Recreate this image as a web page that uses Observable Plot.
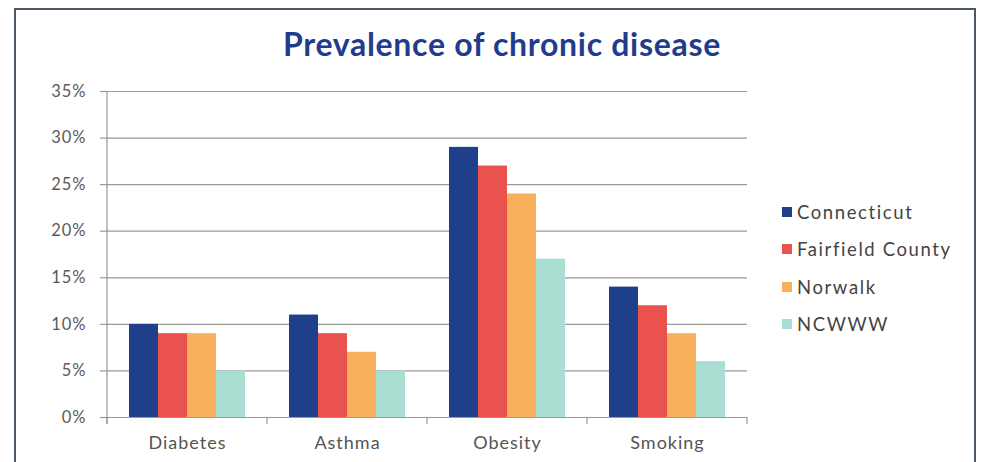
<!DOCTYPE html>
<html>
<head>
<meta charset="utf-8">
<script src="https://cdn.jsdelivr.net/npm/d3@7"></script>
<script src="https://cdn.jsdelivr.net/npm/@observablehq/plot@0.6"></script>
<style>
  body { margin: 0; background: #fff; }
  #wrap { position: relative; width: 982px; height: 462px; overflow: hidden; background: #fff; font-family: Lato, "Noto Sans", sans-serif; }
  #frame { position: absolute; left: 14px; top: 8px; width: 958px; height: 480px; border: 2.5px solid #4b5967; border-bottom: none; box-sizing: content-box; }
  #title { position: absolute; left: 0; width: 1004px; top: 24px; text-align: center; font-size: 32px; font-weight: 700; color: #1f3d8c; letter-spacing: 0.7px; }
  #chart { position: absolute; left: 0; top: 0; }
  #legend { position: absolute; left: 782px; top: 193px; }
  .item { height: 37.5px; display: flex; align-items: center; font-size: 18.5px; color: #444; letter-spacing: 1.6px; }
  .sw { width: 10px; height: 10px; margin-right: 5px; }
</style>
</head>
<body>
<div id="wrap">
  <div id="frame"></div>
  <div id="title">Prevalence of chronic disease</div>
  <div id="chart"></div>
  <div id="legend"></div>
</div>
<script>
const categories = ["Diabetes", "Asthma", "Obesity", "Smoking"];
const seriesNames = ["Connecticut", "Fairfield County", "Norwalk", "NCWWW"];
const seriesColors = ["#203f8b", "#ea524e", "#f9b05d", "#abded3"];
const connecticut = [0.10, 0.11, 0.29, 0.14];
const fairfield = [0.09, 0.09, 0.27, 0.12];
const norwalk = [0.09, 0.07, 0.24, 0.09];
const ncwww = [0.05, 0.05, 0.17, 0.06];
const yTicks = [0, 0.05, 0.10, 0.15, 0.20, 0.25, 0.30, 0.35];

const seriesValues = [connecticut, fairfield, norwalk, ncwww];
const data = [];
categories.forEach((c, i) => {
  seriesNames.forEach((s, j) => data.push({category: c, series: s, value: seriesValues[j][i]}));
});

const chart = Plot.plot({
  width: 982,
  height: 462,
  marginLeft: 107,
  marginRight: 235,
  marginTop: 91,
  marginBottom: 45,
  style: {fontFamily: "Lato, 'Noto Sans', sans-serif", background: "transparent", overflow: "visible", letterSpacing: "1px"},
  fx: {domain: categories, padding: 0, label: null},
  x: {domain: seriesNames, paddingInner: 0, paddingOuter: 0.735, axis: null},
  y: {domain: [0, 0.35], label: null},
  color: {domain: seriesNames, range: seriesColors},
  marks: [
    Plot.gridY(yTicks, {stroke: "#9a9a9a", strokeOpacity: 1, strokeWidth: 1.2}),
    Plot.axisY(yTicks, {tickFormat: d3.format(".0%"), tickSize: 7, tickPadding: 14, fontSize: 16.5, color: "#5a5a5a", stroke: "#9a9a9a", strokeWidth: 1.2, facetAnchor: "left", label: null}),
    Plot.axisFx({anchor: "bottom", tickSize: 0, tickPadding: 19, fontSize: 18, color: "#555", label: null, style: {letterSpacing: "1.5px"}}),
    Plot.barY(data, {fx: "category", x: "series", y: "value", fill: "series"}),
    Plot.ruleY([0], {stroke: "#9a9a9a", strokeWidth: 1.2})
  ]
});
document.getElementById("chart").appendChild(chart);

// Axis line on the left and category-boundary ticks, placed from Plot's own scales
const yS = chart.scale("y");
const fxS = chart.scale("fx");
const svg = d3.select(chart);
const y0 = yS.apply(0), yTop = yS.apply(0.35);
const x0 = fxS.apply(categories[0]);
svg.append("line").attr("x1", x0).attr("x2", x0).attr("y1", yTop).attr("y2", y0 + 7)
  .attr("stroke", "#9a9a9a").attr("stroke-width", 1.2);
const edges = categories.map(c => fxS.apply(c)).concat([fxS.apply(categories[categories.length - 1]) + fxS.bandwidth]);
edges.forEach(e => {
  svg.append("line").attr("x1", e).attr("x2", e).attr("y1", y0).attr("y2", y0 + 7)
    .attr("stroke", "#9a9a9a").attr("stroke-width", 1.2);
});

const legend = d3.select("#legend");
seriesNames.forEach((s, i) => {
  const it = legend.append("div").attr("class", "item");
  it.append("div").attr("class", "sw").style("background", seriesColors[i]);
  it.append("span").text(s);
});
</script>
</body>
</html>
